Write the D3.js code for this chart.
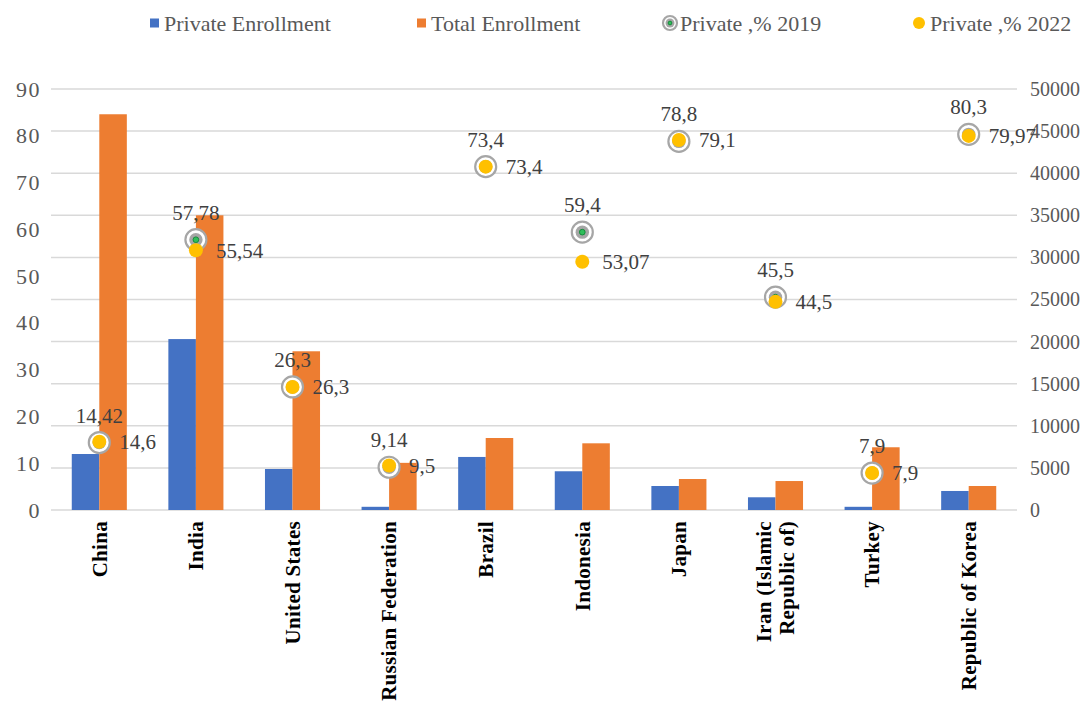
<!DOCTYPE html>
<html>
<head>
<meta charset="utf-8">
<script src="https://cdn.jsdelivr.net/npm/d3@7"></script>
<style>
  body { margin: 0; background: #fff; }
  text { font-family: "Liberation Serif", "Times New Roman", serif; }
</style>
</head>
<body>
<div id="root"></div>
<script>
const width = 1088;
const height = 704;

// Data
const countries = ['China', 'India', 'United States', 'Russian Federation', 'Brazil',
  'Indonesia', 'Japan', 'Iran (Islamic|Republic of)', 'Turkey', 'Republic of Korea'];
const privateEnrollment = [6650, 20300, 4870, 380, 6300, 4600, 2850, 1510, 380, 2260];
const totalEnrollment = [47000, 35000, 18850, 5600, 8550, 7920, 3680, 3440, 7450, 2850];
const private2019 = [14.42, 57.78, 26.3, 9.14, 73.4, 59.4, 78.8, 45.5, 7.9, 80.3];
const private2022 = [14.6, 55.54, 26.3, 9.5, 73.4, 53.07, 79.1, 44.5, 7.9, 79.97];
const leftTicks = [0, 10, 20, 30, 40, 50, 60, 70, 80, 90];
const rightTicks = [0, 5000, 10000, 15000, 20000, 25000, 30000, 35000, 40000, 45000, 50000];

const margin = { left: 51, right: 71, top: 89, bottom: 194 };
const plotRight = width - margin.right;
const plotBottom = height - margin.bottom;

const svg = d3.select('#root')
  .append('svg')
  .attr('width', width)
  .attr('height', height);

const x = d3.scaleBand()
  .domain(countries)
  .range([margin.left, plotRight])
  .paddingInner(0.43)
  .paddingOuter(0.215);

const yLeft = d3.scaleLinear().domain([0, 90]).range([plotBottom, margin.top]);
const yRight = d3.scaleLinear().domain([0, 50000]).range([plotBottom, margin.top]);

// Gridlines (from the right axis ticks)
svg.append('g')
  .selectAll('line')
  .data(rightTicks)
  .enter()
    .append('line')
    .attr('x1', margin.left)
    .attr('x2', plotRight)
    .attr('y1', d => yRight(d))
    .attr('y2', d => yRight(d))
    .attr('stroke', '#d9d9d9')
    .attr('stroke-width', 1.5);

// Left axis
const leftAxis = svg.append('g')
  .attr('transform', `translate(${margin.left - 10},0)`)
  .call(d3.axisLeft(yLeft).tickValues(leftTicks).tickSize(0).tickPadding(0));
leftAxis.select('.domain').remove();
leftAxis.selectAll('text')
  .attr('font-size', 22)
  .attr('letter-spacing', 1.5)
  .attr('fill', '#595959')
  .style('font-family', '"Liberation Serif", serif');

// Right axis
const rightAxis = svg.append('g')
  .attr('transform', `translate(${plotRight + 13},0)`)
  .call(d3.axisRight(yRight).tickValues(rightTicks).tickSize(0).tickPadding(0).tickFormat(d3.format('d')));
rightAxis.select('.domain').remove();
rightAxis.selectAll('text')
  .attr('font-size', 20)
  .attr('fill', '#595959')
  .style('font-family', '"Liberation Serif", serif');

// Bars
const bw = x.bandwidth() / 2;
svg.append('g')
  .selectAll('rect')
  .data(countries)
  .enter()
    .append('rect')
    .attr('x', d => x(d))
    .attr('y', (d, i) => yRight(privateEnrollment[i]))
    .attr('width', bw)
    .attr('height', (d, i) => plotBottom - yRight(privateEnrollment[i]))
    .attr('fill', '#4472c4');

svg.append('g')
  .selectAll('rect')
  .data(countries)
  .enter()
    .append('rect')
    .attr('x', d => x(d) + bw)
    .attr('y', (d, i) => yRight(totalEnrollment[i]))
    .attr('width', bw)
    .attr('height', (d, i) => plotBottom - yRight(totalEnrollment[i]))
    .attr('fill', '#ed7d31');

// Category labels
const cx = d => x(d) + x.bandwidth() / 2;
const catLabels = svg.append('g')
  .selectAll('text')
  .data(countries)
  .enter()
    .append('text')
    .attr('transform', d => `translate(${cx(d)},${plotBottom + 11}) rotate(-90)`)
    .attr('text-anchor', 'end')
    .attr('font-size', 21)
    .attr('font-weight', 'bold')
    .attr('fill', '#000')
    .attr('letter-spacing', 0.3);
catLabels.each(function(d) {
  const lines = d.split('|');
  const t = d3.select(this);
  lines.forEach((line, k) => {
    t.append('tspan')
      .attr('x', 0)
      .attr('y', (k - (lines.length - 1) / 2) * 23)
      .attr('dy', '0.35em')
      .text(line);
  });
});

// 2019 markers
function marker2019(g, r) {
  g.append('circle').attr('r', r).attr('fill', '#fff').attr('stroke', '#a6a6a6').attr('stroke-width', 2.2);
  g.append('circle').attr('r', r * 0.64).attr('fill', '#a6a6a6');
  g.append('circle').attr('r', r * 0.27).attr('fill', '#2fbf5a').attr('stroke', '#178a3c').attr('stroke-width', 1);
}

const fmt = v => String(v).replace('.', ',');

const pts = svg.append('g');
countries.forEach((c, i) => {
  const g = pts.append('g').attr('transform', `translate(${cx(c)},${yLeft(private2019[i])})`);
  marker2019(g, 10.5);
});
pts.selectAll('.dot22')
  .data(countries)
  .enter()
    .append('circle')
    .attr('cx', d => cx(d))
    .attr('cy', (d, i) => yLeft(private2022[i]))
    .attr('r', 7)
    .attr('fill', '#ffc000');

// Data labels
svg.append('g')
  .selectAll('text')
  .data(countries)
  .enter()
    .append('text')
    .attr('x', d => cx(d))
    .attr('y', (d, i) => yLeft(private2019[i]) - 20)
    .attr('text-anchor', 'middle')
    .attr('font-size', 21)
    .attr('fill', '#404040')
    .text((d, i) => fmt(private2019[i]));

svg.append('g')
  .selectAll('text')
  .data(countries)
  .enter()
    .append('text')
    .attr('x', d => cx(d) + 20)
    .attr('y', (d, i) => yLeft(private2022[i]))
    .attr('dy', '0.35em')
    .attr('font-size', 21)
    .attr('fill', '#404040')
    .text((d, i) => fmt(private2022[i]));

// Legend
const legend = svg.append('g').attr('transform', 'translate(0,23)');
const legendItems = [
  { label: 'Private Enrollment', x: 150, kind: 'rect', color: '#4472c4' },
  { label: 'Total Enrollment', x: 417, kind: 'rect', color: '#ed7d31' },
  { label: 'Private ,% 2019', x: 663, kind: 'ring' },
  { label: 'Private ,% 2022', x: 912, kind: 'dot' }
];
legendItems.forEach(item => {
  const g = legend.append('g').attr('transform', `translate(${item.x},0)`);
  if (item.kind === 'rect') {
    g.append('rect').attr('x', 0).attr('y', -4.5).attr('width', 9).attr('height', 9).attr('fill', item.color);
    g.append('text').attr('x', 14).attr('dy', '0.35em').attr('font-size', 22).attr('fill', '#595959').text(item.label);
  } else if (item.kind === 'ring') {
    const m = g.append('g').attr('transform', 'translate(7,0)');
    marker2019(m, 7);
    g.append('text').attr('x', 17).attr('dy', '0.35em').attr('font-size', 22).attr('fill', '#595959').text(item.label);
  } else {
    g.append('circle').attr('cx', 7).attr('r', 6).attr('fill', '#ffc000');
    g.append('text').attr('x', 18).attr('dy', '0.35em').attr('font-size', 22).attr('fill', '#595959').text(item.label);
  }
});
</script>
</body>
</html>
